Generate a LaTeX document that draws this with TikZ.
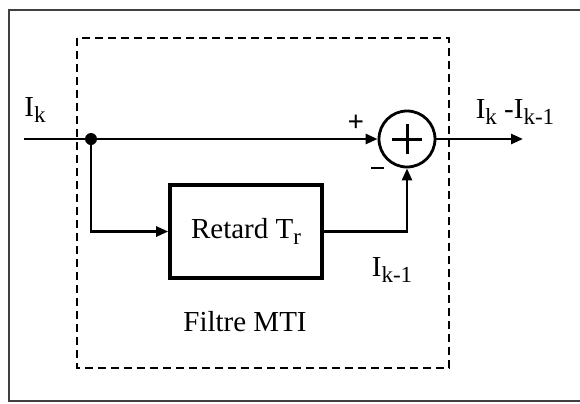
\documentclass[tikz,border=0pt]{standalone}
\usepackage{fontspec}
\setmainfont{Liberation Serif}
\usepackage{tikz}
\usetikzlibrary{arrows.meta, positioning}
\newcommand{\lowidx}[1]{\raisebox{-0.5ex}{\fontsize{11.5}{12}\selectfont #1}}
\newcommand{\lblfont}{\fontsize{14.5}{17}\selectfont}
\tikzset{
    block/.style={draw, line width=1.8pt, minimum width=76pt, minimum height=46.5pt},
    sumnode/.style={draw, circle, line width=1.4pt, minimum size=28pt, inner sep=0pt},
    lbl/.style={inner sep=0pt},
    sign/.style={inner sep=0pt, font=\lblfont\bfseries}
}

\begin{document}
\begin{tikzpicture}[>={Triangle[length=6pt, width=5pt]}, line width=1.3pt, x=0.5pt, y=-0.5pt,
    font=\lblfont]
    \useasboundingbox (0,0) rectangle (580,403);
    % frame
    \draw[line width=1pt, black!75] (580,10) -- (9,10) -- (9,401) -- (580,401);
    \draw[dashed, line width=0.9pt, dash pattern=on 4pt off 2.5pt] (77,38) rectangle (449,368);

    \coordinate (in) at (24,139);
    \coordinate (split) at (91,139);
    \coordinate (out) at (523,139);
    \node[sumnode] (sum) at (407,139) {};
    \draw[line width=1.5pt] ([xshift=-7.5pt]sum.center) -- ([xshift=7.5pt]sum.center)
        ([yshift=-7.5pt]sum.center) -- ([yshift=7.5pt]sum.center);
    \node[block] (delay) at (246,231.5) {Retard T\lowidx{r}};

    \draw[->] (in) -- (sum.west);
    \fill (split) circle (3pt);
    \draw[->] (split) |- (delay.west);
    \draw[->] (delay.east) -| (sum.south);
    \draw[->] (sum.east) -- (out);

    \node[lbl] (inlbl) at (35,110) {I\lowidx{k}};
    \node[sign] (plus) at (356,123) {+};
    \node[sign] (minus) at (378,168) {\rule{6.5pt}{1.3pt}};
    \node[lbl] (outlbl) at (515,112) {I\lowidx{k} -I\lowidx{k-1}};
    \node[lbl] (fblbl) at (392,270) {I\lowidx{k-1}};
    \node[lbl] (title) at (245,322) {Filtre MTI};
\end{tikzpicture}
\end{document}
